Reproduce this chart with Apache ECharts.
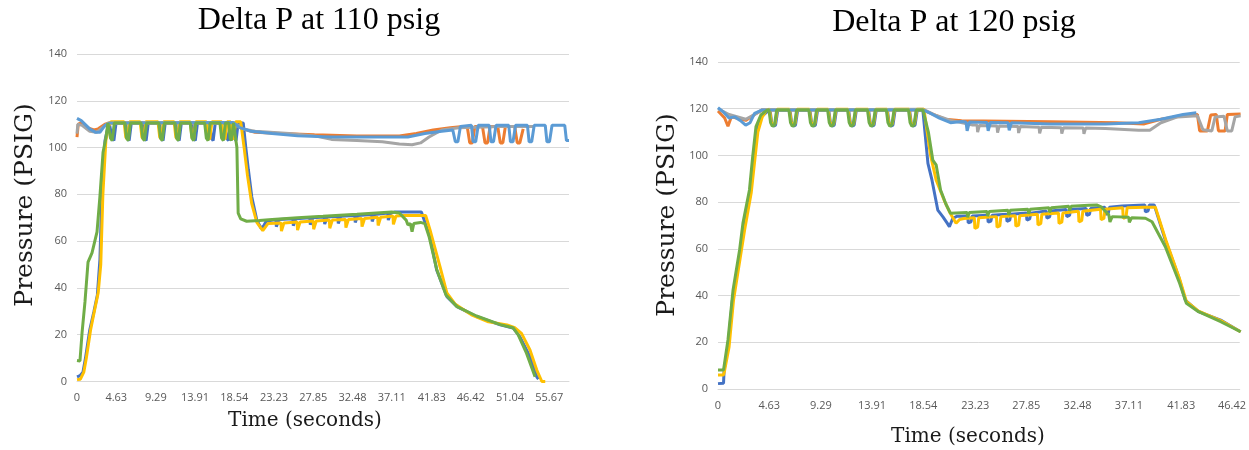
<!DOCTYPE html>
<html>
<head>
<meta charset="utf-8">
<script src="https://cdn.jsdelivr.net/npm/echarts@6/dist/echarts.min.js"></script>
<style>
html,body{margin:0;padding:0;background:#fff;}
#chart{width:1249px;height:450px;}
</style>
</head>
<body>
<div id="chart"></div>
<script>
// ---- tick labels ----
const xTickValues = [0, 4.63, 9.29, 13.91, 18.54, 23.23, 27.85, 32.48, 37.11, 41.83, 46.42, 51.04, 55.67];
const xTickLabels = ['0','4.63','9.29','13.91','18.54','23.23','27.85','32.48','37.11','41.83','46.42','51.04','55.67'];
const titles = ['Delta P at 110 psig', 'Delta P at 120 psig'];

// ---- Delta P at 110 psig : [time (s), pressure (psig)] ----
const L_darkblue = [[0,2],[0.35,2.5],[0.7,4],[1.0,10],[1.5,22],[2.0,30],[2.4,37],[2.7,52],[2.95,83],[3.3,103],[3.6,108],[3.8,110.5],
 [3.95,110.5],[4.15,104],[4.35,103],[4.6,110.5],
 [5.75,110.5],[5.95,104],[6.15,103],[6.4,110.5],
 [7.75,110.5],[7.95,104],[8.15,103],[8.4,110.5],
 [9.75,110.5],[9.95,104],[10.15,103],[10.4,110.5],
 [11.65,110.5],[11.85,104],[12.05,103],[12.3,110.5],
 [13.55,110.5],[13.75,104],[13.95,103],[14.2,110.5],
 [15.65,110.5],[15.85,104],[16.05,103],[16.3,110.5],
 [17.45,110.5],[17.65,104],[17.85,103],[18.1,110.5],
 [18.35,110.5],[18.55,104],[18.75,103],[19.0,110.5],
 [19.6,110.5],[19.9,100],[20.2,90.6],[20.6,79],[21.2,69],[21.7,65.5],[22.0,66.5],[22.3,68.5],
 [23.45,69.2],[23.5,66.2],[23.7,66.7],[23.8,69.2],
 [25.45,69.6],[25.5,66.6],[25.7,67.1],[25.8,69.6],
 [27.45,70],[27.5,67],[27.7,67.5],[27.8,70],
 [29.15,70.3],[29.2,67.3],[29.4,67.8],[29.5,70.3],
 [30.75,70.6],[30.8,67.6],[31.0,68.1],[31.1,70.6],
 [32.75,71],[32.8,68],[33.0,68.5],[33.1,71],
 [34.75,71.4],[34.8,68.4],[35.0,68.9],[35.1,71.4],
 [36.65,72],[36.7,69],[36.9,69.5],[37.0,72],
 [37.5,72.5],[40.6,72.5],[41.6,62],[42.4,47.7],[43.6,36.3],[44.8,32],[47.1,27.8],[49.9,24.2],[51.4,22.9],[52.2,19.2],[53.4,10.6],[54.2,2],[54.4,1]];

const L_yellow = [[0,0.8],[0.4,1],[0.8,4],[1.1,10],[1.6,22],[2.1,31],[2.5,38],[2.8,50],[3.05,80],[3.4,103],[3.7,109],[4.0,111],
 [5.55,111],[5.75,104.5],[5.95,103.5],[6.2,111],
 [7.45,111],[7.65,104.5],[7.85,103.5],[8.1,111],
 [9.55,111],[9.75,104.5],[9.95,103.5],[10.2,111],
 [11.45,111],[11.65,104.5],[11.85,103.5],[12.1,111],
 [13.35,111],[13.55,104.5],[13.75,103.5],[14.0,111],
 [15.25,111],[15.45,104.5],[15.65,103.5],[15.9,111],
 [17.05,111],[17.25,104.5],[17.45,103.5],[17.7,111],
 [18.1,111],[18.25,104.5],[18.45,103.5],[18.7,111],
 [19.3,111],[19.7,100],[20.1,88],[20.6,76],[21.2,68],[21.9,64.5],[22.2,66],[22.5,67.5],
 [24.05,67.8],[24.1,64.3],[24.3,64.8],[24.4,67.8],
 [25.95,68.2],[26.0,64.7],[26.2,65.2],[26.3,68.2],
 [27.85,68.6],[27.9,65.1],[28.1,65.6],[28.2,68.6],
 [29.75,69.0],[29.8,65.5],[30.0,66.0],[30.1,69.0],
 [31.65,69.3],[31.7,65.8],[31.9,66.3],[32.0,69.3],
 [33.55,69.7],[33.6,66.2],[33.8,66.7],[33.9,69.7],
 [35.45,70.2],[35.5,66.7],[35.7,67.2],[35.8,70.2],
 [37.25,70.7],[37.3,67.2],[37.5,67.7],[37.6,70.7],
 [38.5,71],[41.1,71],[41.6,65],[42.8,49],[43.6,37.9],[44.6,33],[46.5,28.5],[48.5,25.5],[50.7,24.2],[51.6,23],[52.4,20.6],[53.4,13.5],[54.2,4.9],[54.8,0],[55.2,0]];

const L_green = [[0,9],[0.35,8.8],[0.6,21],[0.94,34],[1.3,51],[1.77,55],[2.36,64],[2.7,79],[3.07,98],[3.4,104],[3.65,110.5],
 [3.75,110.5],[3.95,104],[4.15,103],[4.4,110.5],
 [5.65,110.5],[5.85,104],[6.05,103],[6.3,110.5],
 [7.55,110.5],[7.75,104],[7.95,103],[8.2,110.5],
 [9.65,110.5],[9.85,104],[10.05,103],[10.3,110.5],
 [11.55,110.5],[11.75,104],[11.95,103],[12.2,110.5],
 [13.35,110.5],[13.55,104],[13.75,103],[14.0,110.5],
 [15.05,110.5],[15.25,104],[15.45,103],[15.7,110.5],
 [16.85,110.5],[17.05,104],[17.25,103],[17.5,110.5],
 [17.9,110.5],[18.05,104],[18.2,103],[18.45,110.5],
 [18.65,110.5],[18.85,100],[19.0,72],[19.3,69.5],[20.0,68.5],[21.5,68.8],[23,69.3],[26,70],[29,70.6],[33,71.5],[37.1,72.5],[38,72],[38.8,69],[39.0,67],[39.3,67.5],[39.5,64],[39.7,67.5],[40.5,68],[41.0,67.5],[41.5,62],[42.4,48],[43.5,37],[44.8,32],[47.1,28],[49.9,24.3],[51.4,23],[52.0,20],[53.0,12],[54.0,2]];

const L_lightblue = [[0,112.5],[0.5,111.5],[1.5,108],[2.2,106.5],[2.7,106.5],[3.3,109.5],[3.9,110.5],[18.4,110.7],[19.2,108.5],[20.5,107],[23,106],[26,105],[30,104.5],[39,104.5],[41,106],[43,107],[44.3,107.5],
 [44.4,108],[44.6,102.5],[44.9,102.5],[45.2,109],
 [46.5,109.5],[46.7,102.5],[47.0,102.5],[47.3,109.5],
 [48.6,109.5],[48.8,102.5],[49.1,102.5],[49.4,109.5],
 [50.9,109.5],[51.1,102.5],[51.4,102.5],[51.7,109.5],
 [53.1,109.5],[53.3,102.5],[53.6,102.5],[53.9,109.5],
 [55.2,109.5],[55.4,102.5],[55.7,102.5],[56.0,109.5],
 [57.5,109.5],[57.7,103],[58,103]];

const L_orange = [[0,104.5],[0.15,110],[0.5,110.5],[1.2,108.5],[2.0,107.5],[2.5,108],[3.3,110],[3.8,110.5],[18.4,110.5],[19.5,108],[21,106.5],[24,106],[28,105.5],[33,105],[38,105],[40,106],[42,107.5],[44,108.5],[45.5,109],
 [46.0,109],[46.3,102],[46.6,102],[46.9,109],
 [47.8,109],[48.1,102],[48.4,102],[48.7,109],
 [49.6,109],[49.9,102],[50.2,102],[50.5,109],
 [51.6,109],[51.9,102],[52.2,102],[52.6,108]];

const L_gray = [[0,106],[0.1,110],[0.6,109.5],[1.5,107],[2.3,106.5],[3.0,108.5],[3.7,110.5],[18.6,110.5],[19.5,108],[21,107],[25,106],[28,105],[30,103.5],[33,103],[36,102.5],[38,101.5],[39.5,101.2],[40.5,102],[41.5,104.5],[43,107.5],[45,108.5],[50,109],[53.8,109]];

// ---- Delta P at 120 psig ----
const R_darkblue = [[0,2.3],[0.5,2.5],[0.55,8],[0.9,18],[1.3,38],[1.9,56],[2.3,68],[2.9,83],[3.2,97],[3.5,110],[3.9,116.5],[4.5,119],
 [4.7,119.5],[4.85,114],[5.0,112.5],[5.2,113],[5.4,119.5],
 [6.5,119.5],[6.65,114],[6.8,112.5],[7.0,113],[7.2,119.5],
 [8.3,119.5],[8.45,114],[8.6,112.5],[8.8,113],[9.0,119.5],
 [10.0,119.5],[10.15,114],[10.3,112.5],[10.5,113],[10.7,119.5],
 [11.8,119.5],[11.95,114],[12.1,112.5],[12.3,113],[12.5,119.5],
 [13.6,119.5],[13.75,114],[13.9,112.5],[14.1,113],[14.3,119.5],
 [15.3,119.5],[15.45,114],[15.6,112.5],[15.8,113],[16.0,119.5],
 [17.3,119.5],[17.45,114],[17.6,112.5],[17.8,113],[18.0,119.5],
 [18.5,119.5],[18.96,96.6],[19.3,90],[19.85,76.6],[20.3,73.8],[20.7,71],[20.9,69.5],[21.2,73],[21.6,74],
 [22.55,74.1],[22.6,71.1],[22.85,71.6],[22.95,74.1],
 [24.35,74.4],[24.4,71.4],[24.65,71.9],[24.75,74.4],
 [26.05,74.8],[26.1,71.8],[26.35,72.3],[26.45,74.8],
 [27.85,75.3],[27.9,72.3],[28.15,72.8],[28.25,75.3],
 [29.65,76.2],[29.7,73.2],[29.95,73.7],[30.05,76.2],
 [31.45,76.8],[31.5,73.8],[31.75,74.3],[31.85,76.8],
 [33.25,77.3],[33.3,74.3],[33.55,74.8],[33.65,77.3],
 [34.95,77.8],[35.0,74.8],[35.25,75.3],[35.35,77.8],
 [36.5,78.3],[38.55,78.8],[38.6,75.8],[38.85,76.3],[38.95,78.8],[39.4,78.8],
 [40.4,63.8],[41.6,48.1],[42.2,38.1],[43.4,33.1],[45.4,29.5],[47.2,24.5]];

const R_yellow = [[0,6],[0.5,6],[0.6,8],[1.0,18],[1.4,38],[2.0,56],[2.4,68],[3.0,84],[3.3,97],[3.6,110],[4.0,116.5],[4.4,119.5],
 [4.65,119.8],[4.8,114.5],[4.95,113],[5.15,113.5],[5.35,119.8],
 [6.45,119.8],[6.6,114.5],[6.75,113],[6.95,113.5],[7.15,119.8],
 [8.25,119.8],[8.4,114.5],[8.55,113],[8.75,113.5],[8.95,119.8],
 [9.95,119.8],[10.1,114.5],[10.25,113],[10.45,113.5],[10.65,119.8],
 [11.75,119.8],[11.9,114.5],[12.05,113],[12.25,113.5],[12.45,119.8],
 [13.55,119.8],[13.7,114.5],[13.85,113],[14.05,113.5],[14.25,119.8],
 [15.25,119.8],[15.4,114.5],[15.55,113],[15.75,113.5],[15.95,119.8],
 [17.25,119.8],[17.4,114.5],[17.55,113],[17.75,113.5],[17.95,119.8],
 [18.6,119.8],[19.2,100],[19.7,89.5],[20.5,80],[21.0,75],[21.5,71],[21.8,72.5],[22.2,73],
 [23.15,73.3],[23.2,68.8],[23.45,69.3],[23.55,73.3],
 [25.15,73.8],[25.2,69.3],[25.45,69.8],[25.55,73.8],
 [26.85,74.2],[26.9,69.7],[27.15,70.2],[27.25,74.2],
 [28.85,74.8],[28.9,70.3],[29.15,70.8],[29.25,74.8],
 [30.75,75.4],[30.8,70.9],[31.05,71.4],[31.15,75.4],
 [32.55,76.1],[32.6,71.6],[32.85,72.1],[32.95,76.1],
 [34.55,77],[34.6,72.5],[34.85,73],[34.95,77],
 [36.55,77.6],[36.6,73.1],[36.85,73.6],[36.95,77.6],
 [38.5,77.8],[39.5,77.8],[40.5,63],[41.7,47],[42.3,37.5],[43.4,33.3],[45.4,29.3],[47.2,24.5]];

const R_green = [[0,8.1],[0.5,8.1],[0.9,21],[1.36,42.4],[1.95,59.5],[2.25,70.9],[2.84,85.2],[3.13,99.4],[3.43,112.3],[3.87,117.3],[4.4,119.3],
 [4.6,119.5],[4.75,114],[4.9,112.5],[5.1,113],[5.3,119.5],
 [6.4,119.5],[6.55,114],[6.7,112.5],[6.9,113],[7.1,119.5],
 [8.2,119.5],[8.35,114],[8.5,112.5],[8.7,113],[8.9,119.5],
 [9.9,119.5],[10.05,114],[10.2,112.5],[10.4,113],[10.6,119.5],
 [11.7,119.5],[11.85,114],[12.0,112.5],[12.2,113],[12.4,119.5],
 [13.5,119.5],[13.65,114],[13.8,112.5],[14.0,113],[14.2,119.5],
 [15.2,119.5],[15.35,114],[15.5,112.5],[15.7,113],[15.9,119.5],
 [17.2,119.5],[17.35,114],[17.5,112.5],[17.7,113],[17.9,119.5],
 [18.5,119.5],[19.0,110],[19.4,98],[19.7,96],[20.1,85.2],[20.6,79],[21.0,75.2],[21.5,75.4],
 [22.5,75.6],[22.55,73.5],[22.7,75.6],[24.3,76],[24.35,74],[24.5,76],[26.2,76.5],[26.25,74.5],[26.4,76.5],
 [28,77],[28.05,75],[28.2,77],[29.9,77.6],[29.95,75.6],[30.1,77.6],[31.7,78.2],[31.75,76.3],[31.9,78.2],
 [33.5,78.7],[34.2,78.8],[34.6,78],[35.3,74.5],[35.4,71.5],[35.6,73.8],[37.1,73.5],[37.15,71.3],[37.35,73.3],[38.6,73.1],[39.2,71.6],
 [40.4,60.9],[41.7,45.2],[42.3,36.7],[43.4,33.1],[45.4,28.8],[47.2,24.5]];

const R_lightblue = [[0,120.5],[0.5,118.5],[1.0,116],[1.5,116.5],[2.0,115],[2.5,113],[2.9,114],[3.3,118],[4.0,119.5],[18.5,119.5],[19.2,118],[20.0,116],[21,114],[22,114.5],
 [22.4,114.3],[22.5,110.5],[22.7,114.3],[24.3,114.1],[24.4,110.5],[24.6,114.1],[26.2,114],[26.3,110.8],[26.5,114],
 [30,113.5],[35,113.5],[38,114],[40,115.5],[42,117.5],[43.2,118.3]];

const R_orange = [[0,119],[0.6,116],[0.9,112.5],[1.2,116.5],[2.5,115],[3.3,117.5],[4.0,119.5],[18.5,119.5],[19.5,117.5],[20.5,115.5],[22,114.8],[30,114.4],[36,114],[38.5,113.5],[40,115.5],[42,117],[43.3,117.5],
 [43.5,110.5],[44.2,110.5],[44.5,117.3],[45.0,117.5],[45.2,110.5],[45.8,110.5],[46.0,117.5],[47.2,117.7]];

const R_gray = [[0,120],[1.0,117.5],[2.5,115.5],[3.3,117.5],[4,119.5],[18.5,119.8],[19.5,117.5],[21,115],[23,113],
 [23.4,113],[23.45,110],[23.6,112.8],[25.2,112.6],[25.25,109.8],[25.4,112.6],[27.1,112.4],[27.15,109.6],[27.3,112.4],
 [29,112.1],[29.05,109.5],[29.2,112.1],[31,111.9],[31.05,109.3],[31.2,111.9],[33,111.7],[33.05,109.2],[33.2,111.7],
 [35,111.5],[38,110.8],[39,110.8],[40,114],[41.5,116.5],[43.3,117],[43.8,111],[44.6,110.5],[44.9,116.5],[45.7,116.8],[46.0,110.5],[46.4,110.5],[46.7,116.5],[47.2,117]];

// ---- styling ----
const COLORS = {darkblue:'#4472C4', orange:'#ED7D31', gray:'#A5A5A5', yellow:'#FFC000', lightblue:'#5B9BD5', green:'#70AD47'};
const chart = echarts.init(document.getElementById('chart'), null, {renderer:'canvas'});

function xAxisFor(idx, max) {
  return {
    type:'value', gridIndex:idx, min:0, max:max,
    axisLine:{show:true, lineStyle:{color:'#d9d9d9', width:1}},
    axisTick:{show:false},
    splitLine:{show:false},
    axisLabel:{
      customValues: xTickValues,
      color:'#595959', fontSize:11, fontFamily:'Open Sans', margin:11,
      formatter: function(v){ const i = xTickValues.indexOf(v); return i >= 0 ? xTickLabels[i] : ''; }
    }
  };
}
function yAxisFor(idx) {
  return {
    type:'value', gridIndex:idx, min:0, max:140, interval:20,
    axisLine:{show:false}, axisTick:{show:false},
    splitLine:{show:true, lineStyle:{color:'#d9d9d9', width:1}},
    axisLabel:{color:'#595959', fontSize:11, fontFamily:'Open Sans', margin:10}
  };
}
function line(data, color, idx) {
  return {type:'line', xAxisIndex:idx, yAxisIndex:idx, data:data, showSymbol:false, symbol:'none',
    lineStyle:{color:color, width:3}, itemStyle:{color:color}, clip:true, animation:false};
}

const option = {
  animation:false,
  backgroundColor:'#ffffff',
  grid:[
    {left:77, top:54, width:492, height:327.5},
    {left:718, top:62, width:531, height:327}
  ],
  xAxis:[xAxisFor(0, 58), xAxisFor(1, 47.12)],
  yAxis:[yAxisFor(0), yAxisFor(1)],
  series:[
    line(L_darkblue, COLORS.darkblue, 0),
    line(L_orange, COLORS.orange, 0),
    line(L_gray, COLORS.gray, 0),
    line(L_yellow, COLORS.yellow, 0),
    line(L_lightblue, COLORS.lightblue, 0),
    line(L_green, COLORS.green, 0),
    line(R_darkblue, COLORS.darkblue, 1),
    line(R_orange, COLORS.orange, 1),
    line(R_gray, COLORS.gray, 1),
    line(R_yellow, COLORS.yellow, 1),
    line(R_lightblue, COLORS.lightblue, 1),
    line(R_green, COLORS.green, 1)
  ],
  graphic:[
    {type:'text', left:'center', x:0, style:{}, silent:true, invisible:true},
    {type:'text', x:319, y:21, style:{text:titles[0], font:'32px "Liberation Serif"', fill:'#000', textAlign:'center', textVerticalAlign:'middle'}},
    {type:'text', x:954, y:23, style:{text:titles[1], font:'32px "Liberation Serif"', fill:'#000', textAlign:'center', textVerticalAlign:'middle'}},
    {type:'text', x:305, y:421, style:{text:'Time (seconds)', font:'20px "DejaVu Serif"', fill:'#1a1a1a', textAlign:'center', textVerticalAlign:'middle'}},
    {type:'text', x:968, y:437, style:{text:'Time (seconds)', font:'20px "DejaVu Serif"', fill:'#1a1a1a', textAlign:'center', textVerticalAlign:'middle'}},
    {type:'text', x:25, y:205, rotation:Math.PI/2, style:{text:'Pressure (PSIG)', font:'25px "DejaVu Serif"', fill:'#1a1a1a', textAlign:'center', textVerticalAlign:'middle'}},
    {type:'text', x:667, y:215, rotation:Math.PI/2, style:{text:'Pressure (PSIG)', font:'25px "DejaVu Serif"', fill:'#1a1a1a', textAlign:'center', textVerticalAlign:'middle'}}
  ]
};
chart.setOption(option);
</script>
</body>
</html>
